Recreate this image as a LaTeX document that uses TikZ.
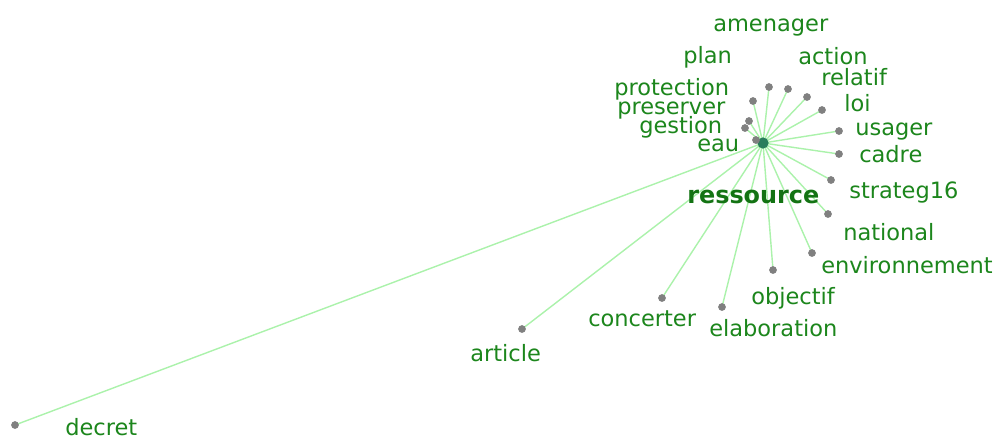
\documentclass[tikz,border=0pt]{standalone}
\usepackage{fontspec}
\setmainfont{DejaVu Sans}
\usetikzlibrary{positioning, backgrounds}
\definecolor{leaf}{HTML}{1C861C}
\definecolor{forest}{HTML}{137313}
\definecolor{sprout}{HTML}{ABF2AB}
\definecolor{pebble}{HTML}{808080}
\definecolor{pond}{HTML}{2A7D5C}
\tikzstyle{word} = [anchor=mid west, inner sep=0pt, text=leaf, yshift=-2.8pt,
                    font=\fontsize{16}{19}\selectfont]
\tikzstyle{dot} = [circle, fill=pebble, inner sep=0pt, minimum size=5.5pt]
\tikzstyle{hub} = [circle, fill=pond, inner sep=0pt, minimum size=8pt]
\tikzstyle{link} = [draw=sprout, line width=1pt]

\begin{document}
\begin{tikzpicture}[x=0.025cm, y=-0.025cm]
    \useasboundingbox (0,0) rectangle (1001,437);

    % central term
    \node[hub] (ressource) at (763,143) {};
    \node[word, text=forest, font=\fontsize{17}{20}\selectfont\bfseries]
        (ressource-t) at (687,196) {ressource};

    % neighbour terms
    \node[dot] (amenager) at (769,87) {};
    \node[dot] (action) at (788,89) {};
    \node[dot] (relatif) at (807,97) {};
    \node[dot] (loi) at (822,110) {};
    \node[dot] (plan) at (753,101) {};
    \node[dot] (protection) at (749,121) {};
    \node[dot] (preserver) at (745,128) {};
    \node[dot] (eau) at (756,140) {};
    \node[dot] (usager) at (839,131) {};
    \node[dot] (cadre) at (839,154) {};
    \node[dot] (strateg) at (831,180) {};
    \node[dot] (national) at (828,214) {};
    \node[dot] (environnement) at (812,253) {};
    \node[dot] (objectif) at (773,270) {};
    \node[dot] (elaboration) at (722,307) {};
    \node[dot] (concerter) at (662,298) {};
    \node[dot] (article) at (522,329) {};
    \node[dot] (decret) at (15,425) {};

    % labels
    \node[word] (amenager-t) at (713,24) {amenager};
    \node[word] (plan-t) at (683,56) {plan};
    \node[word] (action-t) at (798,57) {action};
    \node[word] (relatif-t) at (821,78) {relatif};
    \node[word] (protection-t) at (614,88) {protection};
    \node[word] (preserver-t) at (617,107) {preserver};
    \node[word] (gestion-t) at (639,126) {gestion};
    \node[word] (eau-t) at (697,144) {eau};
    \node[word] (loi-t) at (844,104) {loi};
    \node[word] (usager-t) at (855,128) {usager};
    \node[word] (cadre-t) at (859,155) {cadre};
    \node[word] (strateg-t) at (849,191) {strateg16};
    \node[word] (national-t) at (843,233) {national};
    \node[word] (environnement-t) at (821,266) {environnement};
    \node[word] (objectif-t) at (751,297) {objectif};
    \node[word] (elaboration-t) at (709,329) {elaboration};
    \node[word] (concerter-t) at (588,319) {concerter};
    \node[word] (article-t) at (470,354) {article};
    \node[word] (decret-t) at (65,428) {decret};

    \begin{scope}[on background layer]
        \foreach \w in {amenager, action, relatif, loi, plan, protection,
                        preserver, eau, usager, cadre, strateg, national,
                        environnement, objectif, elaboration, concerter,
                        article, decret}
            \draw[link] (ressource.center) -- (\w.center);
    \end{scope}
\end{tikzpicture}
\end{document}
